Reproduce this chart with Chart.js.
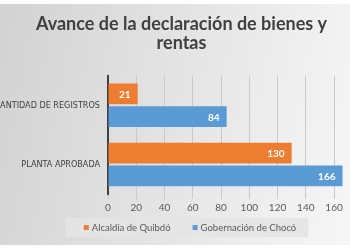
<!DOCTYPE html>
<html>
<head>
<meta charset="utf-8">
<script src="https://cdn.jsdelivr.net/npm/chart.js@4/dist/chart.umd.min.js"></script>
<style>
  html, body { margin: 0; padding: 0; background: #fff; width: 350px; height: 250px; overflow: hidden; }
  #wrap { position: absolute; left: 0; top: 4px; width: 374px; height: 241px; }
</style>
</head>
<body>
<div id="wrap"><canvas id="chart" width="374" height="241"></canvas></div>
<script>
// Avance de la declaración de bienes y rentas
const categories = ["CANTIDAD DE REGISTROS", "PLANTA APROBADA"];
const seriesNames = ["Alcaldía de Quibdó", "Gobernación de Chocó"];
const alcaldia = [21, 130];
const gobernacion = [84, 166];
const xTicks = [0, 20, 40, 60, 80, 100, 120, 140, 160, 180];

const ORANGE = "#ED7D31";
const BLUE = "#5B9BD5";
const TEXT = "#595959";
const FONT = "Lato, 'Open Sans', sans-serif";
const NARROW = "'Liberation Sans Narrow', 'DejaVu Sans Condensed', " + FONT;

// fondo degradado
const backgroundPlugin = {
  id: "bg",
  beforeDraw(chart) {
    const { ctx, width, height } = chart;
    const g = ctx.createLinearGradient(0, 0, width, height * 0.3);
    g.addColorStop(0, "#d2d2d2");
    g.addColorStop(1, "#f6f6f6");
    ctx.save();
    ctx.fillStyle = g;
    ctx.fillRect(0, 0, width, height);
    ctx.restore();
  }
};

// leyenda dibujada a mano (caja gris, cuadritos pequeños)
const boxLegend = {
  id: "boxLegend",
  afterDraw(chart) {
    const { ctx, width, height } = chart;
    const sq = 5, gapText = 3, gapItem = 22, padL = 18, padR = 12;
    ctx.save();
    ctx.font = "9.5px " + FONT;
    const items = chart.data.datasets.map(ds => ({
      text: ds.label, color: ds.backgroundColor, w: ctx.measureText(ds.label).width
    }));
    const total = items.reduce((s, it) => s + sq + gapText + it.w, 0) + gapItem * (items.length - 1);
    const boxW = total + padL + padR;
    const top = height - 27, boxH = 19;
    const left = width / 2 - boxW / 2;
    ctx.fillStyle = "rgba(228,228,228,0.9)";
    ctx.fillRect(left, top, boxW, boxH);
    let x = left + padL;
    const cy = top + boxH / 2;
    ctx.textBaseline = "middle";
    ctx.textAlign = "left";
    items.forEach(it => {
      ctx.fillStyle = it.color;
      ctx.fillRect(x, cy - sq / 2, sq, sq);
      ctx.fillStyle = TEXT;
      ctx.fillText(it.text, x + sq + gapText, cy + 0.5);
      x += sq + gapText + it.w + gapItem;
    });
    ctx.restore();
  }
};

// etiquetas de valor dentro del extremo de cada barra
const valueLabels = {
  id: "valueLabels",
  afterDatasetsDraw(chart) {
    const { ctx } = chart;
    ctx.save();
    ctx.font = "bold 10px " + FONT;
    ctx.fillStyle = "#ffffff";
    ctx.textAlign = "right";
    ctx.textBaseline = "middle";
    chart.data.datasets.forEach((ds, i) => {
      chart.getDatasetMeta(i).data.forEach((bar, j) => {
        ctx.fillText(String(ds.data[j]), bar.x - 7, bar.y + 1);
      });
    });
    ctx.restore();
  }
};

new Chart(document.getElementById("chart"), {
  type: "bar",
  data: {
    labels: categories,
    datasets: [
      { label: seriesNames[0], data: alcaldia, backgroundColor: ORANGE },
      { label: seriesNames[1], data: gobernacion, backgroundColor: BLUE }
    ]
  },
  options: {
    indexAxis: "y",
    responsive: false,
    animation: false,
    categoryPercentage: 0.77,
    barPercentage: 0.91,
    layout: { padding: { left: 0, right: 11, top: 8, bottom: 34 } },
    plugins: {
      title: {
        display: true,
        text: ["Avance de la declaración de bienes y", "rentas"],
        color: "#404040",
        font: { family: FONT, size: 18, weight: "bold", lineHeight: 1.05 },
        padding: { top: 3, bottom: 23 }
      },
      legend: { display: false },
      tooltip: { enabled: false }
    },
    scales: {
      x: {
        min: 0,
        max: xTicks[xTicks.length - 1],
        afterBuildTicks: axis => { axis.ticks = xTicks.map(v => ({ value: v })); },
        afterFit: axis => { axis.height = 17; },
        ticks: { color: TEXT, padding: 3, font: { family: FONT, size: 10 } },
        grid: { color: "#c9c9c9", lineWidth: 1, tickLength: 5 },
        border: { display: false }
      },
      y: {
        afterFit: axis => { axis.width = 108; },
        ticks: { color: "#404040", padding: 8, font: { family: NARROW, size: 9 } },
        grid: { display: false, drawTicks: false },
        border: { color: "#404040", width: 2 }
      }
    }
  },
  plugins: [backgroundPlugin, valueLabels, boxLegend]
});
</script>
</body>
</html>
